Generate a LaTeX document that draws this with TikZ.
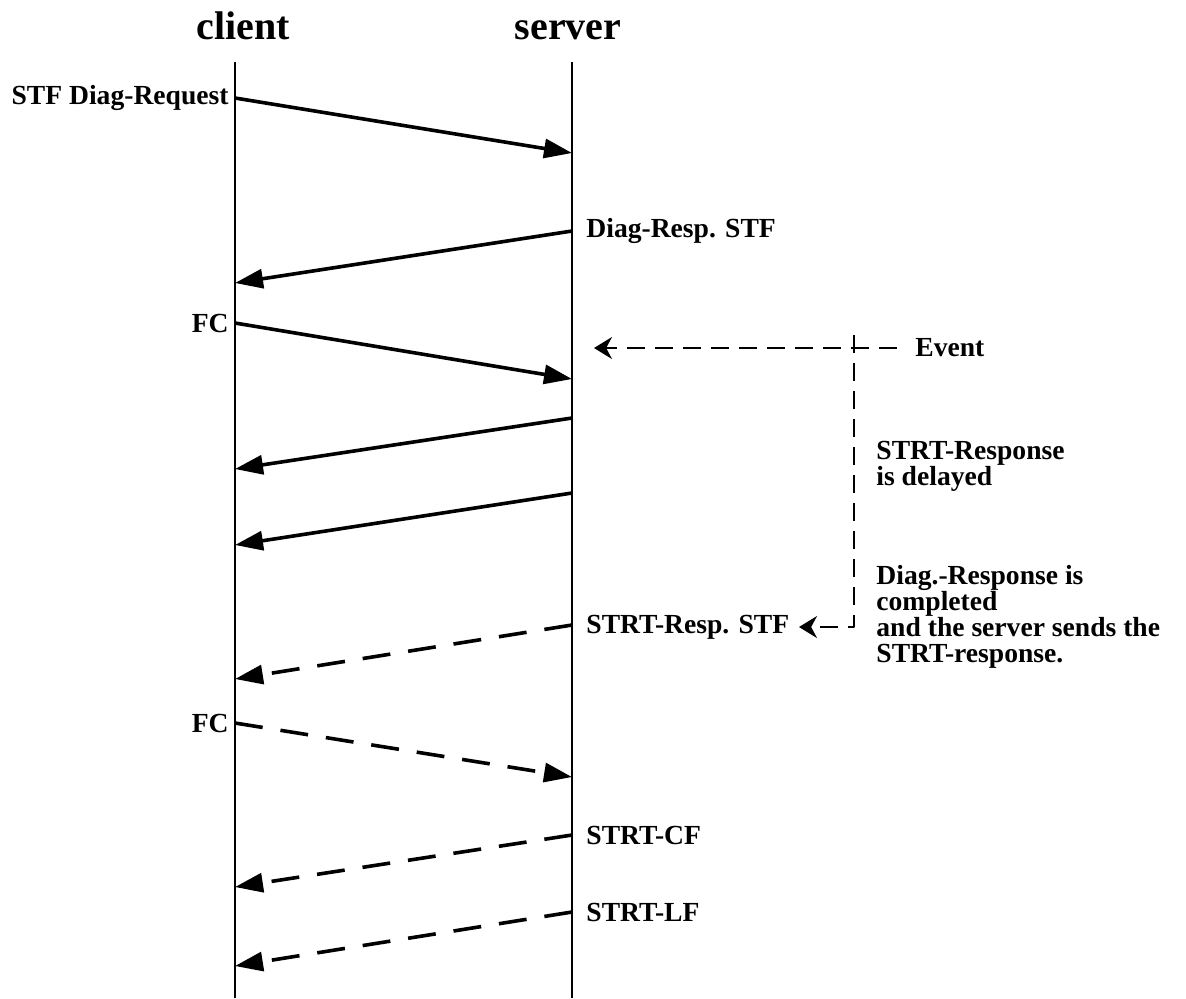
\documentclass[tikz,border=0pt]{standalone}
\usepackage{fontspec}
\setmainfont{Liberation Serif}
\usetikzlibrary{arrows.meta}
\begin{document}
\begin{tikzpicture}[>={Triangle[length=14pt,width=9.5pt]},line join=round,x=0.5pt,y=-0.5pt,
	font=\bfseries\fontsize{13.8}{13}\selectfont,
	lbl/.style={inner sep=0pt},
	head/.style={lbl,anchor=base,font=\bfseries\fontsize{20}{22}\selectfont},
	msg/.style={->,line width=1.8pt},
	dmsg/.style={msg,dash pattern=on 14pt off 9pt},
	evt/.style={line width=0.9pt,dash pattern=on 9pt off 5pt,>={Stealth[length=9pt,width=11pt]}}]
		\useasboundingbox (0,0) rectangle (1186,998);
		% lifelines
		\coordinate (cltop) at (235,62); \coordinate (clbot) at (235,998);
		\coordinate (svtop) at (572,62); \coordinate (svbot) at (572,998);
		\draw[line width=1pt] (cltop)--(clbot);
		\draw[line width=1pt] (svtop)--(svbot);
		\node[head] (client) at (243,39) {client};
		\node[head] (server) at (568,39) {server};
		% message ends
		\coordinate (a1) at (235,98);  \coordinate (b1) at (572,153);
		\coordinate (a2) at (572,231); \coordinate (b2) at (235,283);
		\coordinate (a3) at (235,323); \coordinate (b3) at (572,379);
		\coordinate (a4) at (572,418); \coordinate (b4) at (235,469);
		\coordinate (a5) at (572,493); \coordinate (b5) at (235,545);
		\coordinate (a6) at (572,625); \coordinate (b6) at (235,679);
		\coordinate (a7) at (235,723); \coordinate (b7) at (572,777);
		\coordinate (a8) at (572,835); \coordinate (b8) at (235,887);
		\coordinate (a9) at (572,912); \coordinate (b9) at (235,966);
		\draw[msg] (a1)--(b1);
		\draw[msg] (a2)--(b2);
		\draw[msg] (a3)--(b3);
		\draw[msg] (a4)--(b4);
		\draw[msg] (a5)--(b5);
		\draw[dmsg] (a6)--(b6);
		\draw[dmsg] (a7)--(b7);
		\draw[dmsg] (a8)--(b8);
		\draw[dmsg] (a9)--(b9);
		% labels
		\node[lbl,anchor=east] (req) at (229,98) {STF Diag-Request};
		\node[lbl,anchor=west] (resp) at (586,231) {Diag-Resp. STF};
		\node[lbl,anchor=east] (fc1) at (229,323) {FC};
		\node[lbl,anchor=west] (strt) at (586,627) {STRT-Resp. STF};
		\node[lbl,anchor=east] (fc2) at (229,723) {FC};
		\node[lbl,anchor=west] (cf) at (586,835) {STRT-CF};
		\node[lbl,anchor=west] (lf) at (586,912) {STRT-LF};
		% event
		\node[lbl,anchor=west] (event) at (915,348) {Event};
		\node[lbl,anchor=west,align=left] (delay) at (876,466) {STRT-Response\\is delayed};
		\node[lbl,anchor=west,align=left] (done) at (876,617) {Diag.-Response is\\completed\\and the server sends the\\STRT-response.};
		\coordinate (evr) at (897,348); \coordinate (evl) at (594,348);
		\coordinate (vtop) at (854,335); \coordinate (vtip) at (799,627);
		\draw[evt,->] (evr)--(evl);
		\draw[evt,->] (vtop)|-(vtip);
\end{tikzpicture}
\end{document}
